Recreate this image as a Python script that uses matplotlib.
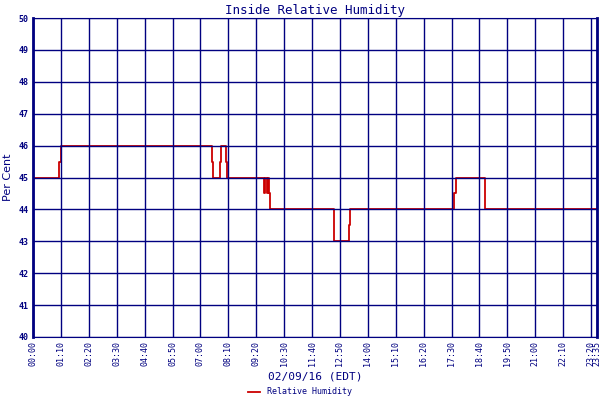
import matplotlib
matplotlib.use("Agg")
import matplotlib.pyplot as plt

# minutes after midnight, humidity (%) -- step series
times = [0, 65, 70, 449, 451, 452, 470, 471, 472, 484, 486,
         580, 583, 586, 589, 592, 595,
         755, 793, 795, 798, 1055, 1060, 1135, 1415]
values = [45, 45.5, 46, 45.5, 45, 45, 45.5, 46, 46, 45.5, 45,
          44.5, 45, 44.5, 45, 44.5, 44,
          43, 43.5, 44, 44, 44.5, 45, 44, 44]

tick_pos = list(range(0, 1401, 70)) + [1415]
tick_labels = ["%02d:%02d" % (m // 60, m % 60) for m in tick_pos]
y_ticks = list(range(40, 51))

navy = "#000080"
font = "DejaVu Sans Mono"

fig = plt.figure(figsize=(6, 4), dpi=100)
ax = fig.add_axes([0.055, 0.1575, 0.94, 0.7975])

ax.step(times, values, where="post", color="#cc0000", lw=1.3, zorder=2,
        label="Relative Humidity")
ax.set_xlim(0, 1415)
ax.set_ylim(40, 50)
ax.set_xticks(tick_pos)
ax.set_xticklabels(tick_labels, rotation=90, fontsize=6, family=font, color=navy)
ax.set_yticks(y_ticks)
ax.set_yticklabels([str(v) for v in y_ticks], fontsize=6, family=font, color=navy,
                   fontweight="bold")
ax.tick_params(length=0, pad=3)
ax.grid(True, color=navy, lw=1.0, zorder=3)
ax.set_axisbelow(False)
for s in ax.spines.values():
    s.set_color(navy)
ax.spines["left"].set_linewidth(2)
ax.spines["right"].set_linewidth(2)

ax.set_title("Inside Relative Humidity", fontsize=9, family=font, color=navy, pad=3)
ax.set_ylabel("Per Cent", fontsize=8, family="DejaVu Sans", color=navy, labelpad=4)
ax.set_xlabel("02/09/16 (EDT)", fontsize=8, family=font, color=navy, labelpad=4)

leg = fig.legend(loc="lower center", bbox_to_anchor=(0.5, -0.01), frameon=False,
                 prop={"family": font, "size": 6}, handlelength=1.5)
for t in leg.get_texts():
    t.set_color(navy)

fig.savefig("out.png", dpi=100)
